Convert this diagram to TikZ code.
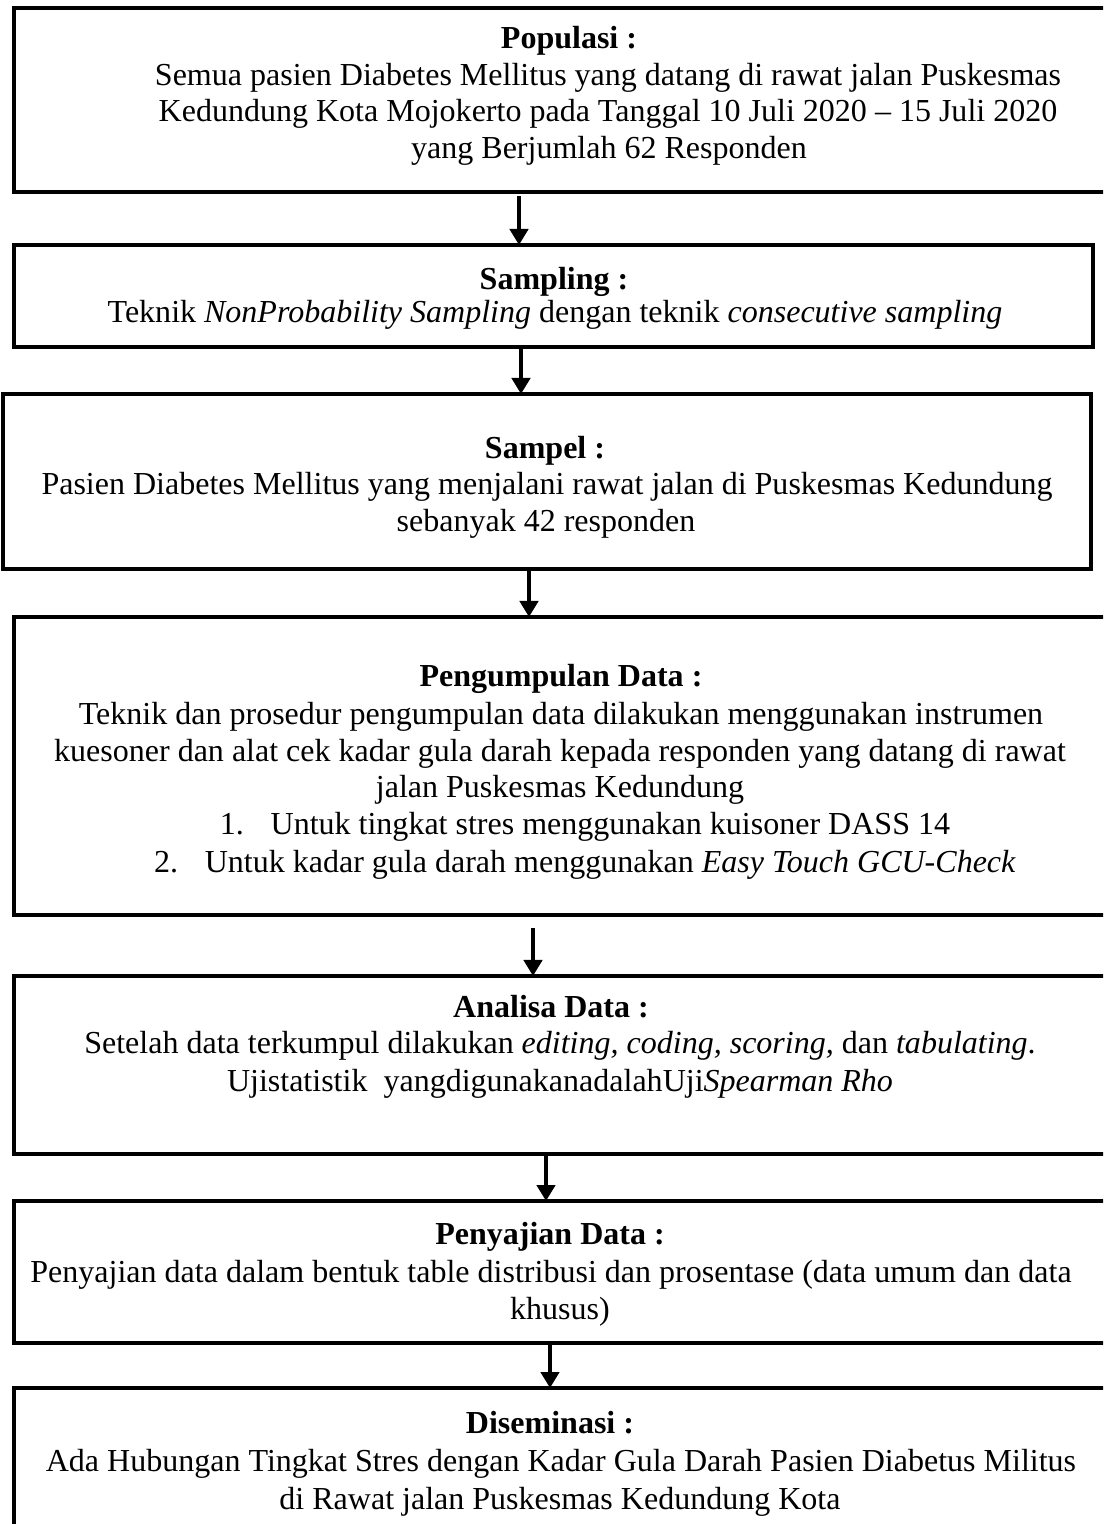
\documentclass[tikz,border=0pt]{standalone}
\usepackage{fontspec}
\setmainfont{Liberation Serif}
\usetikzlibrary{arrows.meta,fit,calc}
\begin{document}
\begin{tikzpicture}[x=0.3748pt,y=-0.3748pt,
  every node/.style={font=\fontsize{12pt}{13.8pt}\selectfont, inner sep=0pt},
  box/.style={draw=black, line width=1.3pt, inner sep=0pt, rectangle},
  txt/.style={anchor=base},
  head/.style={anchor=base, font=\fontsize{12pt}{13.8pt}\selectfont\bfseries},
  arr/.style={line width=1.5pt, -{Triangle[length=6pt,width=6.8pt]}}]
\useasboundingbox (0,0) rectangle (1103,1524);
\clip (0,0) rectangle (1103,1524);
% boxes
\node[box, fit={(14,8) (1115,192)}] (b1) {};
\node[box, fit={(14,245) (1093,347)}] (b2) {};
\node[box, fit={(3,394) (1091,569)}] (b3) {};
\node[box, fit={(14,617) (1115,915)}] (b4) {};
\node[box, fit={(14,976) (1115,1154)}] (b5) {};
\node[box, fit={(14,1201) (1115,1343)}] (b6) {};
\node[box, fit={(14,1388) (1115,1545)}] (b7) {};
% box 1
\node[head] (t1a) at (569,49) {Populasi :};
\node[txt] (t1b) at (608,86) {Semua pasien Diabetes Mellitus yang datang di rawat jalan Puskesmas};
\node[txt] (t1c) at (608,122) {Kedundung Kota Mojokerto pada Tanggal 10 Juli 2020 – 15 Juli 2020};
\node[txt] (t1d) at (609,159) {yang Berjumlah 62 Responden};
% box 2
\node[head] (t2a) at (554,290) {Sampling :};
\node[txt] (t2b) at (555,323) {Teknik \textit{NonProbability Sampling} dengan teknik \textit{consecutive sampling}};
% box 3
\node[head] (t3a) at (545,459) {Sampel :};
\node[txt] (t3b) at (547,495) {Pasien Diabetes Mellitus yang menjalani rawat jalan di Puskesmas Kedundung};
\node[txt] (t3c) at (546,532) {sebanyak 42 responden};
% box 4
\node[head] (t4a) at (561,686) {Pengumpulan Data :};
\node[txt] (t4b) at (561,724) {Teknik dan prosedur pengumpulan data dilakukan menggunakan instrumen};
\node[txt] (t4c) at (560,761) {kuesoner dan alat cek kadar gula darah kepada responden yang datang di rawat};
\node[txt] (t4d) at (560,797) {jalan Puskesmas Kedundung};
\node[txt] (t4e) at (585,834) {1.\hspace{10pt}Untuk tingkat stres menggunakan kuisoner DASS 14};
\node[txt] (t4f) at (585,872) {2.\hspace{10pt}Untuk kadar gula darah menggunakan \textit{Easy Touch GCU-Check}};
% box 5
\node[head] (t5a) at (551,1017) {Analisa Data :};
\node[txt] (t5b) at (560,1053) {Setelah data terkumpul dilakukan \textit{editing, coding, scoring,} dan \textit{tabulating}.};
\node[txt] (t5c) at (560,1091) {Ujistatistik\ \ yangdigunakanadalahUji\textit{Spearman Rho}};
% box 6
\node[head] (t6a) at (550,1244) {Penyajian Data :};
\node[txt] (t6b) at (551,1282) {Penyajian data dalam bentuk table distribusi dan prosentase (data umum dan data};
\node[txt] (t6c) at (560,1319) {khusus)};
% box 7
\node[head] (t7a) at (550,1433) {Diseminasi :};
\node[txt] (t7b) at (561,1471) {Ada Hubungan Tingkat Stres dengan Kadar Gula Darah Pasien Diabetus Militus};
\node[txt] (t7c) at (560,1509) {di Rawat jalan Puskesmas Kedundung Kota};
% arrows
\coordinate (a1s) at (519,196); \coordinate (a1e) at (519,245);
\coordinate (a2s) at (521,349); \coordinate (a2e) at (521,394);
\coordinate (a3s) at (529,570); \coordinate (a3e) at (529,617);
\coordinate (a4s) at (533,928); \coordinate (a4e) at (533,976);
\coordinate (a5s) at (546,1155); \coordinate (a5e) at (546,1201);
\coordinate (a6s) at (550,1344); \coordinate (a6e) at (550,1388);
\draw[arr] (a1s) -- (a1e);
\draw[arr] (a2s) -- (a2e);
\draw[arr] (a3s) -- (a3e);
\draw[arr] (a4s) -- (a4e);
\draw[arr] (a5s) -- (a5e);
\draw[arr] (a6s) -- (a6e);
\end{tikzpicture}
\end{document}
